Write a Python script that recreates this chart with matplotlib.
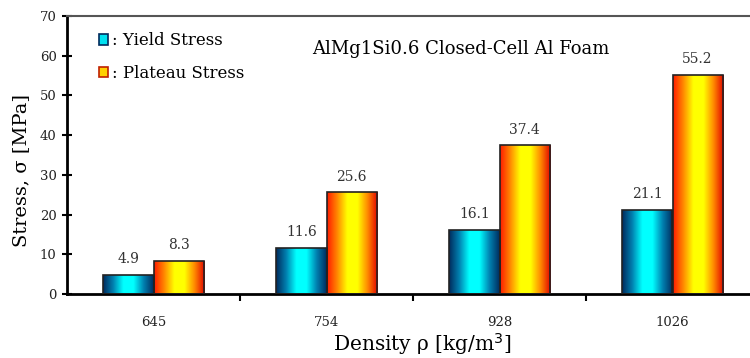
import numpy as np
import matplotlib.pyplot as plt
from matplotlib.colors import LinearSegmentedColormap
from matplotlib.patches import Patch

plt.rcParams['font.family'] = ['DejaVu Serif']

densities = ['645', '754', '928', '1026']
yield_stress = [4.9, 11.6, 16.1, 21.1]
plateau_stress = [8.3, 25.6, 37.4, 55.2]

fig = plt.figure(figsize=(7.5, 3.58), dpi=100)
ax = fig.add_axes([67 / 750, 1 - 294 / 358, 683 / 750, 278 / 358])

x = np.arange(len(densities))
w = 0.29

cmap_y = LinearSegmentedColormap.from_list(
    'yld', ['#002a5c', '#0080b0', '#00ffff', '#00ffff', '#0080b0', '#002a5c'])
cmap_p = LinearSegmentedColormap.from_list(
    'plt', ['#ff1a00', '#ff8800', '#ffff00', '#ffff00', '#ff8800', '#e00000'])
grad = np.linspace(0, 1, 256).reshape(1, -1)

bars_y = ax.bar(x - w / 2, yield_stress, w, facecolor='none', edgecolor='#222222', lw=1.2, zorder=3)
bars_p = ax.bar(x + w / 2, plateau_stress, w, facecolor='none', edgecolor='#222222', lw=1.2, zorder=3)

for bars, cmap in [(bars_y, cmap_y), (bars_p, cmap_p)]:
    for b in bars:
        x0, y0 = b.get_x(), b.get_y()
        im = ax.imshow(grad, cmap=cmap, aspect='auto', zorder=2,
                       extent=[x0, x0 + b.get_width(), y0, y0 + b.get_height()])
        im.set_clip_path(b)

for bars, vals in [(bars_y, yield_stress), (bars_p, plateau_stress)]:
    for b, v in zip(bars, vals):
        ax.text(b.get_x() + b.get_width() / 2, v + 2.2, f'{v}', ha='center', va='bottom',
                fontsize=10, color='#333333')

ax.set_xlim(-0.5, -0.5 + 683 / 173)
ax.set_ylim(0, 70)
ax.set_yticks(range(0, 71, 10))
ax.set_xticks(x)
ax.set_xticklabels(densities)
ax.set_xticks(np.arange(0.5, 3, 1), minor=True)
ax.tick_params(axis='x', which='major', length=0, pad=16, labelsize=9.5, labelcolor='#222222')
ax.tick_params(axis='x', which='minor', length=5, width=1.5, direction='out')
ax.tick_params(axis='y', length=7, width=1.5, direction='inout', labelsize=9.5, pad=4,
               labelcolor='#222222')

ax.spines['right'].set_visible(False)
ax.spines['left'].set_linewidth(2)
ax.spines['bottom'].set_linewidth(2)
ax.spines['top'].set_color('#555555')
ax.spines['top'].set_linewidth(1.5)

ax.set_ylabel('Stress, σ [MPa]', fontsize=14)
ax.yaxis.set_label_coords(-0.054, 0.445)
ax.set_xlabel('Density ρ [kg/m$^3$]', fontsize=14.5)
ax.xaxis.set_label_coords(0.52, -0.135)

ax.text(0.577, 0.88, 'AlMg1Si0.6 Closed-Cell Al Foam', transform=ax.transAxes,
        ha='center', va='center', fontsize=13)

handles = [Patch(facecolor='#00e0f0', edgecolor='#002a5c', lw=1.2),
           Patch(facecolor='#ffd000', edgecolor='#c02000', lw=1.2)]
ax.legend(handles, [': Yield Stress', ': Plateau Stress'], loc='upper left',
          bbox_to_anchor=(0.025, 0.995), frameon=False, fontsize=12,
          handlelength=0.55, handleheight=0.55, handletextpad=0.2, labelspacing=0.95)

fig.savefig('out.png', dpi=100)
